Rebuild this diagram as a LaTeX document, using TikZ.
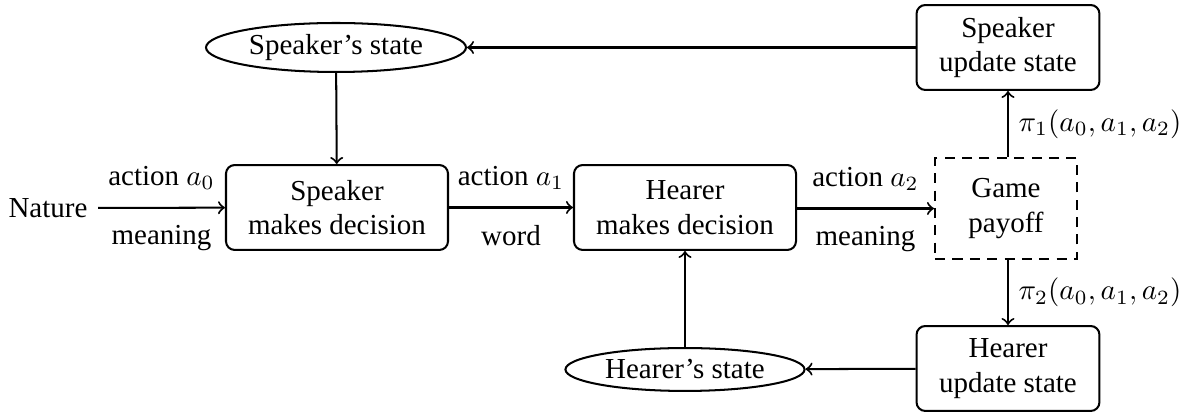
\documentclass[tikz,border=0pt]{standalone}
\usepackage{fontspec}
\setmainfont{Liberation Serif}
\usetikzlibrary{shapes.geometric}
\begin{document}
\begin{tikzpicture}[x=0.345pt,y=-0.345pt,line width=0.7pt,
  box/.style={draw,rounded corners=3pt,align=center,inner sep=0pt,
    minimum width=76.6pt,minimum height=29.3pt},
  updbox/.style={box,minimum width=63.1pt},
  paybox/.style={draw,dashed,dash pattern=on 3.5pt off 2.5pt,align=center,
    inner sep=0pt,minimum width=49pt,minimum height=34.8pt},
  state/.style={draw,ellipse,inner sep=0pt},
  flow/.style={->},
  up/.style={above=2.5pt},
  down/.style={below=2.5pt}]
\useasboundingbox (0,0) rectangle (1192,413);

\node (nature) at (48,208) {Nature};
\node[box] (spk) at (337,207.5) {Speaker\\makes decision};
\node[box] (hr) at (685,207.5) {Hearer\\makes decision};
\node[paybox] (pay) at (1006,208.5) {Game\\payoff};
\node[updbox] (supd) at (1008,47.5) {Speaker\\update state};
\node[updbox] (hupd) at (1008,368.5) {Hearer\\update state};
\node[state,minimum width=89.7pt,minimum height=16.9pt] (sst) at (336,47.5) {Speaker's state};
\node[state,minimum width=82.5pt,minimum height=14.8pt] (hst) at (685,369.5) {Hearer's state};

\draw[flow] (nature) -- node[up] {action $a_0$} node[down] {meaning} (spk);
\draw[flow] (spk) -- node[up] {action $a_1$} node[down] {word} (hr);
\draw[flow] (hr.east |- pay.west) -- node[up] {action $a_2$} node[down] {meaning} (pay.west);
\draw[flow] (pay.north -| supd.south) -- node[right] {$\pi_1(a_0,a_1,a_2)$} (supd.south);
\draw[flow] (pay.south -| hupd.north) -- node[right] {$\pi_2(a_0,a_1,a_2)$} (hupd.north);
\draw[flow] (supd) -- (sst);
\draw[flow] (hupd) -- (hst);
\draw[flow] (sst) -- (spk);
\draw[flow] (hst) -- (hr);
\end{tikzpicture}
\end{document}
